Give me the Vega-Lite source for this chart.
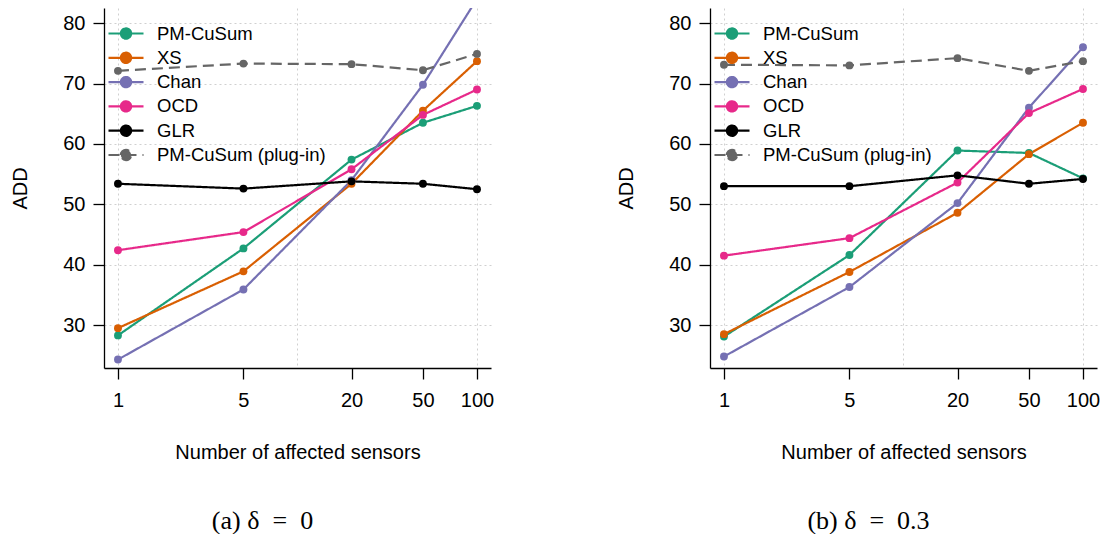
{
  "$schema": "https://vega.github.io/schema/vega-lite/v6.json",
  "background": "white",
  "padding": {"left": 10, "top": 8, "right": 3, "bottom": 0},
  "config": {
    "view": {"stroke": null},
    "font": "Liberation Sans",
    "axis": {
      "domainColor": "black", "domainWidth": 1.3,
      "tickColor": "black", "tickWidth": 1.3, "tickSize": 11,
      "labelFont": "Liberation Sans", "labelFontSize": 20, "labelColor": "black",
      "titleFont": "Liberation Sans", "titleFontSize": 20, "titleFontWeight": "normal", "titleColor": "black",
      "gridColor": "#d0d0d0", "gridDash": [2, 3], "gridWidth": 1
    },
    "axisX": {"labelPadding": 11, "titlePadding": 32},
    "axisY": {"labelPadding": 8, "titlePadding": 32},
    "title": {"font": "Liberation Serif", "fontSize": 26, "fontWeight": "normal", "color": "black", "baseline": "middle"}
  },
  "datasets": {
    "adds": [
      {"p": "a", "n": 1, "method": "PM-CuSum", "add": 28.3},
      {"p": "a", "n": 5, "method": "PM-CuSum", "add": 42.7},
      {"p": "a", "n": 20, "method": "PM-CuSum", "add": 57.4},
      {"p": "a", "n": 50, "method": "PM-CuSum", "add": 63.5},
      {"p": "a", "n": 100, "method": "PM-CuSum", "add": 66.3},
      {"p": "a", "n": 1, "method": "XS", "add": 29.5},
      {"p": "a", "n": 5, "method": "XS", "add": 38.9},
      {"p": "a", "n": 20, "method": "XS", "add": 53.4},
      {"p": "a", "n": 50, "method": "XS", "add": 65.5},
      {"p": "a", "n": 100, "method": "XS", "add": 73.7},
      {"p": "a", "n": 1, "method": "Chan", "add": 24.3},
      {"p": "a", "n": 5, "method": "Chan", "add": 35.9},
      {"p": "a", "n": 20, "method": "Chan", "add": 54.0},
      {"p": "a", "n": 50, "method": "Chan", "add": 69.8},
      {"p": "a", "n": 100, "method": "Chan", "add": 84.0},
      {"p": "a", "n": 1, "method": "OCD", "add": 42.4},
      {"p": "a", "n": 5, "method": "OCD", "add": 45.4},
      {"p": "a", "n": 20, "method": "OCD", "add": 55.8},
      {"p": "a", "n": 50, "method": "OCD", "add": 64.8},
      {"p": "a", "n": 100, "method": "OCD", "add": 69.0},
      {"p": "a", "n": 1, "method": "GLR", "add": 53.4},
      {"p": "a", "n": 5, "method": "GLR", "add": 52.6},
      {"p": "a", "n": 20, "method": "GLR", "add": 53.8},
      {"p": "a", "n": 50, "method": "GLR", "add": 53.4},
      {"p": "a", "n": 100, "method": "GLR", "add": 52.5},
      {"p": "a", "n": 1, "method": "PM-CuSum (plug-in)", "add": 72.1},
      {"p": "a", "n": 5, "method": "PM-CuSum (plug-in)", "add": 73.3},
      {"p": "a", "n": 20, "method": "PM-CuSum (plug-in)", "add": 73.2},
      {"p": "a", "n": 50, "method": "PM-CuSum (plug-in)", "add": 72.2},
      {"p": "a", "n": 100, "method": "PM-CuSum (plug-in)", "add": 74.9},
      {"p": "b", "n": 1, "method": "PM-CuSum", "add": 28.1},
      {"p": "b", "n": 5, "method": "PM-CuSum", "add": 41.6},
      {"p": "b", "n": 20, "method": "PM-CuSum", "add": 58.9},
      {"p": "b", "n": 50, "method": "PM-CuSum", "add": 58.5},
      {"p": "b", "n": 100, "method": "PM-CuSum", "add": 54.3},
      {"p": "b", "n": 1, "method": "XS", "add": 28.5},
      {"p": "b", "n": 5, "method": "XS", "add": 38.8},
      {"p": "b", "n": 20, "method": "XS", "add": 48.6},
      {"p": "b", "n": 50, "method": "XS", "add": 58.3},
      {"p": "b", "n": 100, "method": "XS", "add": 63.5},
      {"p": "b", "n": 1, "method": "Chan", "add": 24.8},
      {"p": "b", "n": 5, "method": "Chan", "add": 36.3},
      {"p": "b", "n": 20, "method": "Chan", "add": 50.2},
      {"p": "b", "n": 50, "method": "Chan", "add": 66.0},
      {"p": "b", "n": 100, "method": "Chan", "add": 76.0},
      {"p": "b", "n": 1, "method": "OCD", "add": 41.5},
      {"p": "b", "n": 5, "method": "OCD", "add": 44.4},
      {"p": "b", "n": 20, "method": "OCD", "add": 53.6},
      {"p": "b", "n": 50, "method": "OCD", "add": 65.1},
      {"p": "b", "n": 100, "method": "OCD", "add": 69.1},
      {"p": "b", "n": 1, "method": "GLR", "add": 53.0},
      {"p": "b", "n": 5, "method": "GLR", "add": 53.0},
      {"p": "b", "n": 20, "method": "GLR", "add": 54.8},
      {"p": "b", "n": 50, "method": "GLR", "add": 53.4},
      {"p": "b", "n": 100, "method": "GLR", "add": 54.2},
      {"p": "b", "n": 1, "method": "PM-CuSum (plug-in)", "add": 73.1},
      {"p": "b", "n": 5, "method": "PM-CuSum (plug-in)", "add": 73.0},
      {"p": "b", "n": 20, "method": "PM-CuSum (plug-in)", "add": 74.2},
      {"p": "b", "n": 50, "method": "PM-CuSum (plug-in)", "add": 72.1},
      {"p": "b", "n": 100, "method": "PM-CuSum (plug-in)", "add": 73.7}
    ]
  },
  "spacing": 122,
  "resolve": {"scale": {"color": "independent", "strokeDash": "independent"}, "legend": {"color": "independent"}},
  "hconcat": [
    {
      "width": 387, "height": 360,
      "title": {"text": "(a) δ\u00a0 = \u00a00", "orient": "bottom", "anchor": "middle", "offset": 46, "dx": -35},
      "data": {"name": "adds"},
      "transform": [{"filter": "datum.p == 'a'"}],
      "encoding": {
        "x": {"field": "n", "type": "quantitative",
          "scale": {"type": "log", "domain": [0.836, 119.7], "nice": false},
          "axis": {"title": "Number of affected sensors", "values": [1, 5, 10, 20, 50, 100], "format": "d",
            "labelExpr": "datum.value == 10 ? '' : datum.label",
            "tickOpacity": {"condition": {"test": "datum.value == 10", "value": 0}, "value": 1},
            "grid": true,
            "gridOpacity": {"condition": {"test": "datum.value == 1 || datum.value == 10 || datum.value == 100", "value": 1}, "value": 0}}},
        "y": {"field": "add", "type": "quantitative",
          "scale": {"domain": [22.9, 82.5], "nice": false, "zero": false},
          "axis": {"title": "ADD", "values": [30, 40, 50, 60, 70, 80], "grid": true}},
        "color": {"field": "method", "type": "nominal",
          "scale": {"domain": ["PM-CuSum", "XS", "Chan", "OCD", "GLR", "PM-CuSum (plug-in)"],
                    "range": ["#1b9e77", "#d95f02", "#7570b3", "#e7298a", "#000000", "#666666"]},
          "legend": {"orient": "none", "legendX": 12, "legendY": 15.5, "title": null, "padding": 0,
            "symbolType": "M-2.06,0H2.06M-0.6,0A0.6,0.6,0,1,1,0.6,0A0.6,0.6,0,1,1,-0.6,0Z",
            "symbolSize": 289, "symbolStrokeWidth": 2.2, "labelFont": "Liberation Sans", "labelFontSize": 18.5, "labelColor": "black",
            "labelOffset": 21, "rowPadding": 4.3, "labelLimit": 0,
            "encode": {"symbols": {"update": {
              "fill": {"signal": "datum.value=='PM-CuSum'?'#1b9e77':datum.value=='XS'?'#d95f02':datum.value=='Chan'?'#7570b3':datum.value=='OCD'?'#e7298a':datum.value=='GLR'?'#000000':'#666666'"},
              "stroke": {"signal": "datum.value=='PM-CuSum'?'#1b9e77':datum.value=='XS'?'#d95f02':datum.value=='Chan'?'#7570b3':datum.value=='OCD'?'#e7298a':datum.value=='GLR'?'#000000':'#666666'"},
              "strokeDash": {"signal": "datum.value=='PM-CuSum (plug-in)' ? [5.5,6] : [1,0]"},
              "opacity": {"value": 1}}}}}}
      },
      "layer": [
        {"mark": {"type": "line", "strokeWidth": 2.2, "clip": true},
         "encoding": {"strokeDash": {"field": "method", "type": "nominal", "legend": null,
           "scale": {"domain": ["PM-CuSum", "XS", "Chan", "OCD", "GLR", "PM-CuSum (plug-in)"],
                     "range": [[1, 0], [1, 0], [1, 0], [1, 0], [1, 0], [11, 6]]}}}},
        {"mark": {"type": "point", "filled": true, "size": 62, "opacity": 1, "clip": true}}
      ]
    },
    {
      "width": 387, "height": 360,
      "title": {"text": "(b) δ\u00a0 = \u00a00.3", "orient": "bottom", "anchor": "middle", "offset": 46, "dx": -35},
      "data": {"name": "adds"},
      "transform": [{"filter": "datum.p == 'b'"}],
      "encoding": {
        "x": {"field": "n", "type": "quantitative",
          "scale": {"type": "log", "domain": [0.836, 119.7], "nice": false},
          "axis": {"title": "Number of affected sensors", "values": [1, 5, 10, 20, 50, 100], "format": "d",
            "labelExpr": "datum.value == 10 ? '' : datum.label",
            "tickOpacity": {"condition": {"test": "datum.value == 10", "value": 0}, "value": 1},
            "grid": true,
            "gridOpacity": {"condition": {"test": "datum.value == 1 || datum.value == 10 || datum.value == 100", "value": 1}, "value": 0}}},
        "y": {"field": "add", "type": "quantitative",
          "scale": {"domain": [22.9, 82.5], "nice": false, "zero": false},
          "axis": {"title": "ADD", "values": [30, 40, 50, 60, 70, 80], "grid": true}},
        "color": {"field": "method", "type": "nominal",
          "scale": {"domain": ["PM-CuSum", "XS", "Chan", "OCD", "GLR", "PM-CuSum (plug-in)"],
                    "range": ["#1b9e77", "#d95f02", "#7570b3", "#e7298a", "#000000", "#666666"]},
          "legend": {"orient": "none", "legendX": 12, "legendY": 15.5, "title": null, "padding": 0,
            "symbolType": "M-2.06,0H2.06M-0.6,0A0.6,0.6,0,1,1,0.6,0A0.6,0.6,0,1,1,-0.6,0Z",
            "symbolSize": 289, "symbolStrokeWidth": 2.2, "labelFont": "Liberation Sans", "labelFontSize": 18.5, "labelColor": "black",
            "labelOffset": 21, "rowPadding": 4.3, "labelLimit": 0,
            "encode": {"symbols": {"update": {
              "fill": {"signal": "datum.value=='PM-CuSum'?'#1b9e77':datum.value=='XS'?'#d95f02':datum.value=='Chan'?'#7570b3':datum.value=='OCD'?'#e7298a':datum.value=='GLR'?'#000000':'#666666'"},
              "stroke": {"signal": "datum.value=='PM-CuSum'?'#1b9e77':datum.value=='XS'?'#d95f02':datum.value=='Chan'?'#7570b3':datum.value=='OCD'?'#e7298a':datum.value=='GLR'?'#000000':'#666666'"},
              "strokeDash": {"signal": "datum.value=='PM-CuSum (plug-in)' ? [5.5,6] : [1,0]"},
              "opacity": {"value": 1}}}}}}
      },
      "layer": [
        {"mark": {"type": "line", "strokeWidth": 2.2, "clip": true},
         "encoding": {"strokeDash": {"field": "method", "type": "nominal", "legend": null,
           "scale": {"domain": ["PM-CuSum", "XS", "Chan", "OCD", "GLR", "PM-CuSum (plug-in)"],
                     "range": [[1, 0], [1, 0], [1, 0], [1, 0], [1, 0], [11, 6]]}}}},
        {"mark": {"type": "point", "filled": true, "size": 62, "opacity": 1, "clip": true}}
      ]
    }
  ]
}
